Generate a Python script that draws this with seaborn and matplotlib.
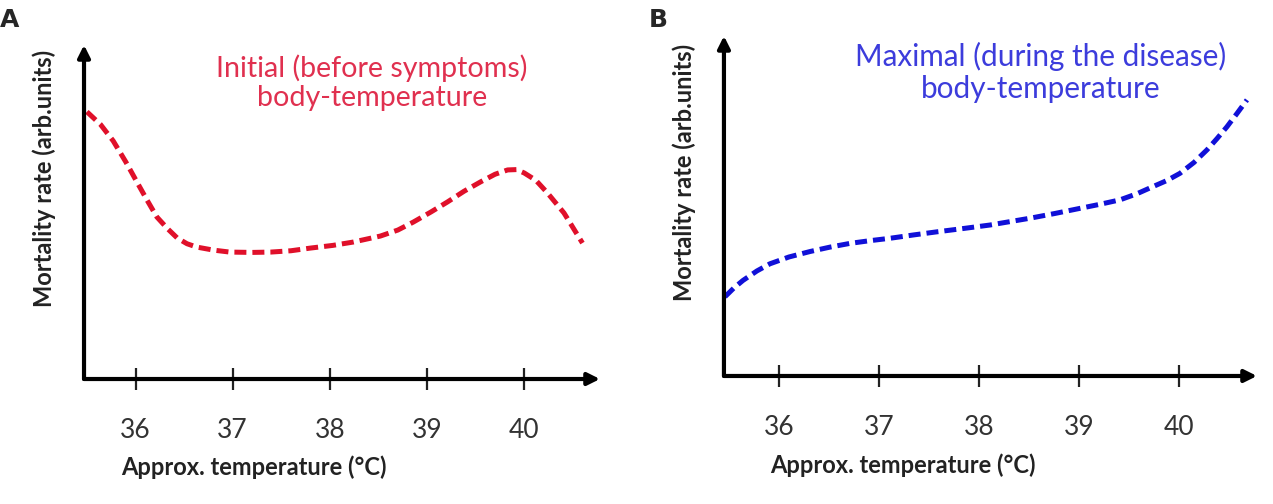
import numpy as np
import pandas as pd
import matplotlib
matplotlib.use("Agg")
import matplotlib.pyplot as plt
import seaborn as sns

# values (temperature in degC, mortality in arb. units 0-100)
temp_initial = [35.50, 35.64, 35.77, 35.90, 36.02, 36.12, 36.22, 36.33, 36.43, 36.53, 36.63,
                36.80, 36.97, 37.20, 37.39, 37.60, 37.80, 38.03, 38.24, 38.52, 38.70, 38.86,
                39.04, 39.21, 39.38, 39.55, 39.70, 39.83, 39.92, 40.00, 40.12, 40.24, 40.41, 40.60]
mort_initial = [80.0, 76.2, 71.3, 65.0, 58.7, 53.5, 48.5, 45.0, 42.2, 40.5, 39.5,
                38.6, 38.0, 37.9, 38.0, 38.4, 39.2, 40.0, 41.0, 42.8, 44.6, 47.0,
                50.0, 53.0, 56.2, 59.0, 61.3, 62.6, 62.7, 61.7, 59.5, 55.7, 49.7, 40.7]

temp_maximal = [35.46, 35.55, 35.64, 35.78, 35.91, 36.10, 36.31, 36.51, 36.71, 36.91, 37.11,
                37.35, 37.58, 37.85, 38.11, 38.31, 38.51, 38.76, 39.01, 39.21, 39.41, 39.58,
                39.74, 39.88, 40.01, 40.15, 40.28, 40.38, 40.48, 40.58, 40.68]
mort_maximal = [23.3, 25.9, 28.1, 30.9, 33.0, 35.0, 36.6, 37.9, 39.0, 39.8, 40.5,
                41.5, 42.4, 43.4, 44.4, 45.4, 46.4, 47.8, 49.3, 50.5, 51.8, 53.6,
                55.7, 57.5, 59.6, 62.8, 66.5, 69.8, 73.3, 77.2, 81.2]

ticks = [36, 37, 38, 39, 40]
xlabel = "Approx. temperature (°C)"
ylabel = "Mortality rate (arb.units)"

df_a = pd.DataFrame({"temp": temp_initial, "mort": mort_initial})
df_b = pd.DataFrame({"temp": temp_maximal, "mort": mort_maximal})

sns.set_theme(style="white")
plt.rcParams["font.family"] = ["Lato", "DejaVu Sans"]

fig = plt.figure(figsize=(12.73, 5.04), dpi=100)
ax1 = fig.add_axes([0.066, 0.248, 0.4053, 0.6627])
ax2 = fig.add_axes([0.5687, 0.254, 0.4187, 0.6746])

panels = [
    (ax1, df_a, (35.47, 40.78), "#e0102a", "Initial (before symptoms)\nbody-temperature",
     "#e0304f", 0.558, 0.886, 20.6, 0.330, -0.054),
    (ax2, df_b, (35.45, 40.78), "#1010d8", "Maximal (during the disease)\nbody-temperature",
     "#3c3cdc", 0.595, 0.893, 21.4, 0.336, -0.053),
]

for ax, df, xlim, lc, title, tc, tx, ty, tfs, xlx, ylx in panels:
    sns.lineplot(data=df, x="temp", y="mort", ax=ax, color=lc, linewidth=3.6,
                 linestyle=(0, (2.4, 1.2)), sort=False)
    ax.set_xlim(*xlim)
    ax.set_ylim(0, 100)
    for s in ax.spines.values():
        s.set_visible(False)
    # axis arrows
    ax.annotate("", xy=(1, 0), xytext=(0, 0), xycoords="axes fraction",
                arrowprops=dict(arrowstyle="-|>", lw=3, color="black",
                                mutation_scale=18, shrinkA=0, shrinkB=0), clip_on=False)
    ax.annotate("", xy=(0, 1), xytext=(0, 0), xycoords="axes fraction",
                arrowprops=dict(arrowstyle="-|>", lw=3, color="black",
                                mutation_scale=18, shrinkA=0, shrinkB=0), clip_on=False)
    ax.set_xticks(ticks)
    ax.set_xticklabels([str(t) for t in ticks])
    ax.set_yticks([])
    ax.tick_params(axis="x", direction="inout", length=16, width=1.6, color="#222222",
                   pad=20, labelsize=19, labelcolor="#333333", bottom=True)
    ax.set_xlabel(xlabel, fontsize=17, fontweight="bold", color="#222222")
    ax.xaxis.set_label_coords(xlx, -0.228)
    ax.set_ylabel(ylabel, fontsize=17, fontweight="bold", color="#222222")
    ax.yaxis.set_label_coords(ylx, 0.6)
    ax.text(tx, ty, title, transform=ax.transAxes, ha="center", va="center",
            color=tc, fontsize=tfs, linespacing=1.15)

fig.text(0.0, 0.985, "A", fontsize=18, fontweight="bold", family="DejaVu Sans",
         ha="left", va="top")
fig.text(0.510, 0.985, "B", fontsize=18, fontweight="bold", family="DejaVu Sans",
         ha="left", va="top")

fig.savefig("out.png", dpi=100, facecolor="white")
